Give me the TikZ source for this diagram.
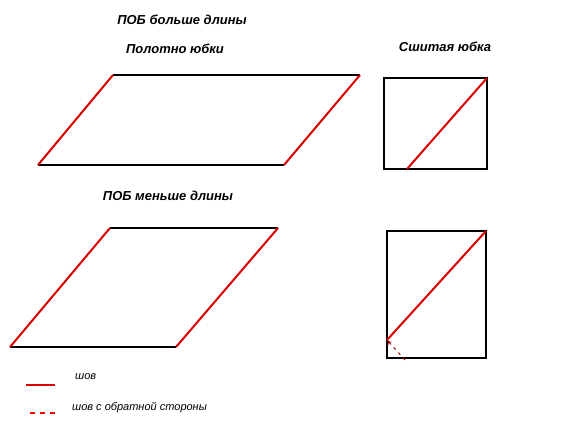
\documentclass[tikz,border=0pt]{standalone}
\usepackage{fontspec}
\setmainfont{Liberation Sans}
\usetikzlibrary{arrows.meta}
\tikzset{
  edge/.style={line width=1.3pt},
  seam/.style={red!85!black,line width=2pt},
  backseam/.style={red!60!black,dash pattern=on 3pt off 4pt,line width=0.9pt},
  title/.style={font=\itshape\bfseries\fontsize{13}{15}\selectfont,inner sep=0pt},
  note/.style={font=\itshape\fontsize{11}{13}\selectfont,inner sep=0pt,anchor=west}
}
\begin{document}
\begin{tikzpicture}[x=1pt,y=-1pt]
\useasboundingbox (0,0) rectangle (576,432);
% Titles
\node[title] (tlong) at (182,20) {ПОБ больше длины};
\node[title] (tcloth) at (175,49) {Полотно юбки};
\node[title] (tsewn) at (445,47) {Сшитая юбка};
\node[title] (tshort) at (168,196) {ПОБ меньше длины};
% Cloth, long
\coordinate (pl_0) at (38,165);
\coordinate (pl_1) at (284,165);
\coordinate (pl_2) at (360,75);
\coordinate (pl_3) at (113,75);
\draw[edge] (pl_0) -- (pl_1) (pl_2) -- (pl_3);
\draw[seam] (pl_0) -- (pl_3) (pl_1) -- (pl_2);
% Skirt, long
\coordinate (sl_0) at (384,169);
\coordinate (sl_1) at (487,169);
\coordinate (sl_2) at (487,78);
\coordinate (sl_3) at (384,78);
\coordinate (sl_4) at (407,169);
\draw[edge] (sl_0) -- (sl_1) -- (sl_2) -- (sl_3) -- cycle;
\draw[seam] (sl_4) -- (sl_2);
% Cloth, short
\coordinate (ps_0) at (10,347);
\coordinate (ps_1) at (176,347);
\coordinate (ps_2) at (278,228);
\coordinate (ps_3) at (110,228);
\draw[edge] (ps_0) -- (ps_1) (ps_2) -- (ps_3);
\draw[seam] (ps_0) -- (ps_3) (ps_1) -- (ps_2);
% Skirt, short
\coordinate (ss_0) at (387,358);
\coordinate (ss_1) at (486,358);
\coordinate (ss_2) at (486,231);
\coordinate (ss_3) at (387,231);
\coordinate (ss_4) at (387,340);
\coordinate (ss_5) at (405,360);
\draw[edge] (ss_0) -- (ss_1) -- (ss_2) -- (ss_3) -- cycle;
\draw[seam] (ss_4) -- (ss_2);
\draw[backseam,-{Stealth[length=5pt,width=4pt]}] (ss_5) -- (ss_4);
% Legend
\coordinate (lg_0) at (26,385);
\coordinate (lg_1) at (55,385);
\coordinate (lg_2) at (30,413);
\coordinate (lg_3) at (57,413);
\draw[seam] (lg_0) -- (lg_1);
\draw[red,dash pattern=on 5pt off 5pt,line width=1.3pt] (lg_2) -- (lg_3);
\node[note] (nseam) at (75,377) {шов};
\node[note] (nback) at (72,408) {шов с обратной стороны};
\end{tikzpicture}
\end{document}
